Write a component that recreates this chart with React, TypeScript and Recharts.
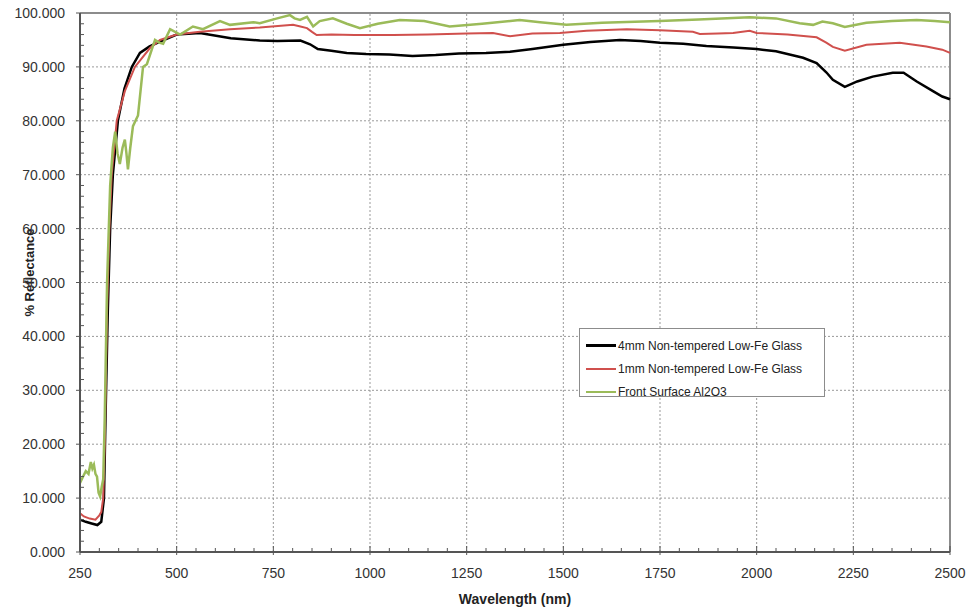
import { LineChart, Line, XAxis, YAxis, ReferenceLine, Legend } from 'recharts';

// Reflectance spectra
const blackWl = [250, 265, 280, 295, 305, 312, 316, 322, 328, 335, 348, 365, 384, 405, 430, 460, 500, 560, 640, 715, 760, 820, 845, 865, 900, 940, 990, 1050, 1110, 1170, 1230, 1300, 1362, 1420, 1500, 1570, 1646, 1700, 1750, 1810, 1870, 1940, 2000, 2050, 2085, 2120, 2155, 2180, 2197, 2228, 2260, 2300, 2352, 2380, 2414, 2456, 2480, 2500];
const blackVals = [6.0, 5.6, 5.3, 5.0, 5.6, 10, 25, 45, 60, 70, 80, 86, 90, 92.6, 93.8, 94.8, 96.0, 96.3, 95.3, 94.9, 94.8, 94.9, 94.2, 93.3, 93.0, 92.6, 92.4, 92.3, 92.0, 92.2, 92.5, 92.6, 92.8, 93.3, 94.1, 94.6, 95.0, 94.8, 94.5, 94.3, 93.9, 93.6, 93.3, 92.9, 92.3, 91.7, 90.7, 89.0, 87.6, 86.3, 87.3, 88.2, 88.9, 88.9, 87.3, 85.5, 84.5, 84.0];

const redWl = [250, 260, 275, 290, 300, 305, 310, 314, 320, 326, 332, 345, 366, 392, 431, 457, 500, 560, 638, 715, 801, 820, 837, 850, 862, 900, 960, 1060, 1150, 1250, 1318, 1362, 1420, 1491, 1560, 1664, 1750, 1835, 1853, 1900, 1939, 1982, 2000, 2080, 2155, 2180, 2197, 2228, 2284, 2370, 2439, 2480, 2500];
const redVals = [7.2, 6.6, 6.2, 6.0, 6.8, 7.4, 10, 20, 45, 60, 70, 80, 85.5, 90, 93.5, 95, 96, 96.5, 97, 97.3, 97.8, 97.5, 97.2, 96.5, 95.9, 96.0, 95.9, 95.9, 96.0, 96.2, 96.3, 95.7, 96.2, 96.3, 96.7, 97.0, 96.8, 96.5, 96.1, 96.2, 96.3, 96.7, 96.3, 96.0, 95.5, 94.5, 93.7, 93.0, 94.1, 94.5, 93.8, 93.2, 92.6];

const greenWl = [250, 258, 265, 272, 278, 282, 286, 290, 294, 298, 302, 306, 310, 314, 320, 328, 335, 341, 347, 353, 360, 366, 370, 374, 380, 387, 400, 413, 423, 444, 455, 465, 483, 509, 542, 568, 612, 638, 698, 715, 760, 793, 805, 819, 837, 853, 870, 904, 940, 974, 1020, 1077, 1140, 1206, 1290, 1387, 1440, 1508, 1600, 1749, 1850, 1982, 2050, 2111, 2146, 2170, 2197, 2228, 2284, 2350, 2414, 2460, 2500];
const greenVals = [12.8, 14, 15, 14.5, 16.7, 15.5, 16.2, 14.5, 14, 11, 10.3, 12, 13.5, 25, 50, 68, 75, 78, 74, 72, 75, 76.5, 74, 71, 75, 79, 81, 90, 90.5, 95, 94.5, 94.3, 97, 96, 97.5, 97, 98.5, 97.8, 98.3, 98.1, 99, 99.6, 99, 98.7, 99.3, 97.5, 98.5, 99.0, 98, 97.2, 98, 98.7, 98.5, 97.5, 98, 98.7, 98.3, 97.8, 98.2, 98.5, 98.8, 99.2, 99, 98.1, 97.8, 98.4, 98.1, 97.4, 98.2, 98.5, 98.7, 98.5, 98.3];

const seriesNames = ['4mm Non-tempered Low-Fe Glass', '1mm Non-tempered Low-Fe Glass', 'Front Surface Al2O3'];
const seriesColors = ['#000000', '#d0504d', '#9bbb59'];

const xMajor = [250, 500, 750, 1000, 1250, 1500, 1750, 2000, 2250, 2500];
const yMajor = [0, 10, 20, 30, 40, 50, 60, 70, 80, 90, 100];

const xTicks: number[] = [];
for (let v = 250; v <= 2500; v += 50) xTicks.push(v);
const yTicks: number[] = [];
for (let v = 0; v <= 100; v += 2) yTicks.push(v);

const toPoints = (wl: number[], vals: number[]) => wl.map((w, i) => ({ wl: w, r: vals[i] }));
const series = [
  toPoints(blackWl, blackVals),
  toPoints(redWl, redVals),
  toPoints(greenWl, greenVals),
];

const FONT = '"Liberation Sans", Arial, sans-serif';
const AXIS = '#555555';

function XTick({ x, y, payload }: any) {
  const v = payload.value;
  const major = xMajor.includes(v);
  return (
    <g>
      <line x1={x} x2={x} y1={y - (major ? 6 : 4)} y2={y + (major ? 3 : 0)} stroke={AXIS} strokeWidth={1} />
      {major && (
        <text x={x} y={y + 26} textAnchor="middle" fontSize={14} fill="#333" fontFamily={FONT}>{v}</text>
      )}
    </g>
  );
}

function YTick({ x, y, payload }: any) {
  const v = payload.value;
  const major = yMajor.includes(v);
  return (
    <g>
      <line x1={x - (major ? 4 : 0)} x2={x + (major ? 0 : 4)} y1={y} y2={y} stroke={AXIS} strokeWidth={1} />
      {major && (
        <text x={x - 15} y={y + 5} textAnchor="end" fontSize={14} fill="#333" fontFamily={FONT}>{v.toFixed(3)}</text>
      )}
    </g>
  );
}

function LegendBox() {
  return (
    <div style={{
      width: 246, height: 69, boxSizing: 'border-box', border: '1px solid #8c8c8c', background: '#fff',
      fontFamily: FONT, fontSize: 12, color: '#222', padding: '5px 0 0 6px',
    }}>
      {seriesNames.map((n, i) => (
        <div key={n} style={{ display: 'flex', alignItems: 'center', height: 23 }}>
          <span style={{ width: 30, height: i === 0 ? 3 : 2, background: seriesColors[i], marginRight: 2 }} />
          {n}
        </div>
      ))}
    </div>
  );
}

export default function App() {
  return (
    <div style={{ width: 973, height: 608, background: '#fff', position: 'relative' }}>
      <style>{'body{margin:0}'}</style>
      <LineChart width={973} height={608} margin={{ top: 13, right: 23, bottom: 0, left: 0 }}>
        {xMajor.slice(1, -1).map((v) => (
          <ReferenceLine key={'gx' + v} x={v} stroke="#999" strokeDasharray="2 2" strokeWidth={1} />
        ))}
        {yMajor.slice(1, -1).map((v) => (
          <ReferenceLine key={'gy' + v} y={v} stroke="#999" strokeDasharray="2 2" strokeWidth={1} />
        ))}
        <ReferenceLine y={100} stroke="#8c8c8c" strokeWidth={2} />
        <ReferenceLine x={2500} stroke="#8c8c8c" strokeWidth={2} />
        <XAxis
          dataKey="wl"
          type="number"
          domain={[250, 2500]}
          ticks={xTicks}
          interval={0}
          allowDuplicatedCategory={false}
          height={56}
          tickSize={0}
          tickMargin={0}
          tick={<XTick />}
          axisLine={{ stroke: AXIS, strokeWidth: 2 }}
          label={{ value: 'Wavelength (nm)', position: 'insideBottom', offset: 4, fontSize: 14, fontWeight: 'bold', fill: '#222', fontFamily: FONT }}
        />
        <YAxis
          type="number"
          domain={[0, 100]}
          ticks={yTicks}
          interval={0}
          width={80}
          tickSize={0}
          tickMargin={0}
          tick={<YTick />}
          axisLine={{ stroke: AXIS, strokeWidth: 2 }}
          label={{
            content: ({ viewBox }: any) => {
              const cx = viewBox.x + 29;
              const cy = viewBox.y + viewBox.height / 2 - 10;
              return (
                <text x={cx} y={cy} transform={`rotate(-90 ${cx} ${cy})`} textAnchor="middle" dominantBaseline="central"
                  fontSize={13} fontWeight="bold" fill="#222" fontFamily={FONT}>% Reflectance</text>
              );
            },
          }}
        />
        {series.map((d, i) => (
          <Line
            key={seriesNames[i]}
            data={d}
            dataKey="r"
            name={seriesNames[i]}
            type="linear"
            stroke={seriesColors[i]}
            strokeWidth={i === 1 ? 2 : 2.5}
            dot={false}
            isAnimationActive={false}
          />
        ))}
        <Legend
          layout="vertical"
          align="center"
          verticalAlign="middle"
          content={<LegendBox />}
          wrapperStyle={{ left: 579, top: 328, width: 246 }}
        />
      </LineChart>
    </div>
  );
}
